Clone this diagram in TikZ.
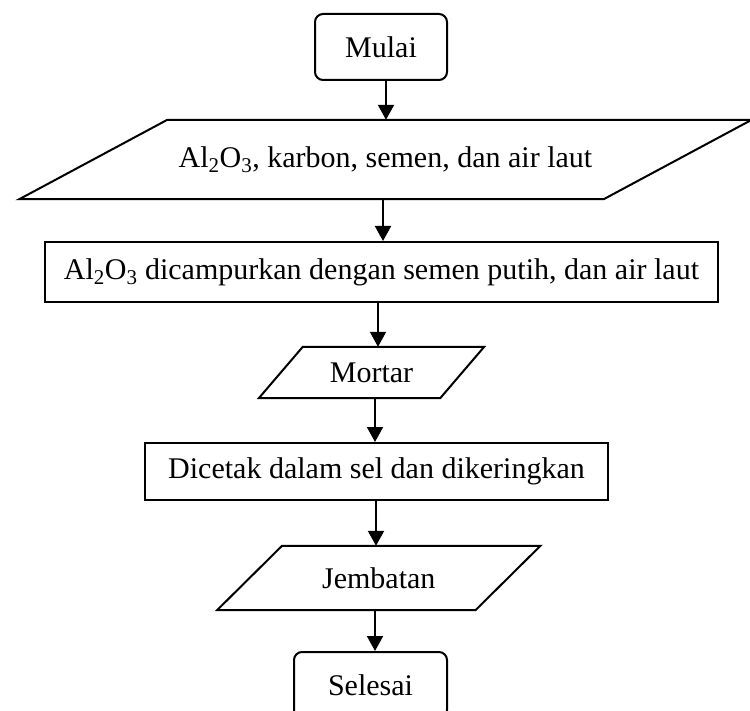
\documentclass[tikz,border=0pt]{standalone}
\usepackage{fontspec}
\setmainfont{Liberation Serif}
\usetikzlibrary{arrows.meta}
\begin{document}
\begin{tikzpicture}[x=1pt,y=-1pt,
  every node/.style={font=\fontsize{30}{34}\selectfont, inner sep=0pt},
  term/.style={draw, line width=2pt, rounded corners=8pt, minimum width=132pt, minimum height=66pt},
  procbox/.style={draw, line width=2pt, minimum height=60pt},
  iobox/.style={minimum height=#1},
  outline/.style={draw, line width=2pt, line join=miter},
  arr/.style={line width=2pt, -{Triangle[width=16pt,length=15pt]}}]
\useasboundingbox (0,0) rectangle (750,711);

\node[term] (mulai) at (381,47) {Mulai};

\node[iobox=79pt, minimum width=584pt] (inp) at (385.5,159.5) {Al\textsubscript{2}O\textsubscript{3}, karbon, semen, dan air laut};
\draw[outline] ([xshift=74pt]inp.north west) -- ([xshift=74pt]inp.north east) -- ([xshift=-74pt]inp.south east) -- ([xshift=-74pt]inp.south west) -- cycle;

\node[procbox, minimum width=673pt, minimum height=60pt] (mix) at (381.5,272) {Al\textsubscript{2}O\textsubscript{3} dicampurkan dengan semen putih, dan air laut};

\node[iobox=51pt, minimum width=181pt] (mortar) at (371.5,372.5) {Mortar};
\draw[outline] ([xshift=22pt]mortar.north west) -- ([xshift=22pt]mortar.north east) -- ([xshift=-22pt]mortar.south east) -- ([xshift=-22pt]mortar.south west) -- cycle;

\node[procbox, minimum width=463pt, minimum height=57pt] (cetak) at (376.5,471.5) {Dicetak dalam sel dan dikeringkan};

\node[iobox=64pt, minimum width=258pt] (jemb) at (378.75,578) {Jembatan};
\draw[outline] ([xshift=32.5pt]jemb.north west) -- ([xshift=32.5pt]jemb.north east) -- ([xshift=-32.5pt]jemb.south east) -- ([xshift=-32.5pt]jemb.south west) -- cycle;

\node[term, minimum width=153pt] (selesai) at (370.5,685) {Selesai};

\coordinate (c1) at (386,0);
\coordinate (c2) at (383,0);
\coordinate (c3) at (378,0);
\coordinate (c4) at (375,0);
\coordinate (c5) at (376,0);
\coordinate (c6) at (375,0);
\draw[arr] (mulai.south -| c1) -- (inp.north -| c1);
\draw[arr] (inp.south -| c2) -- (mix.north -| c2);
\draw[arr] (mix.south -| c3) -- (mortar.north -| c3);
\draw[arr] (mortar.south -| c4) -- (cetak.north -| c4);
\draw[arr] (cetak.south -| c5) -- (jemb.north -| c5);
\draw[arr] (jemb.south -| c6) -- (selesai.north -| c6);
\end{tikzpicture}
\end{document}
